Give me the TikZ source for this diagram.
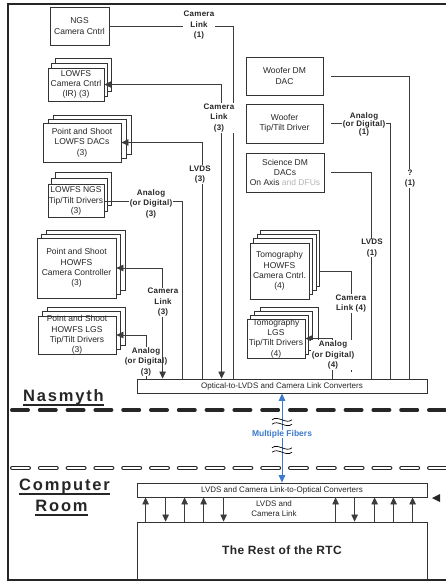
\documentclass[tikz,border=0pt]{standalone}
\usepackage{fontspec}
\setmainfont{Liberation Sans}
\newfontfamily\hdfont[LetterSpace=11]{Liberation Sans}
\newfontfamily\lbfont[LetterSpace=3]{Liberation Sans}
\usetikzlibrary{arrows.meta,shadows}
\definecolor{boxline}{HTML}{333333}
\definecolor{wirecol}{HTML}{3C3C3C}
\definecolor{ink}{HTML}{262626}
\definecolor{fibre}{HTML}{3C7BCB}
\definecolor{faded}{HTML}{B4B4B4}
\newsavebox{\hdbox}
\newcommand{\hdul}[1]{\sbox{\hdbox}{#1}\rlap{\usebox{\hdbox}}\rule[-5.2pt]{\wd\hdbox}{1.8pt}}
\tikzset{
  unit/.style  ={draw=boxline, line width=0.8pt, fill=white, align=center, text=ink,
                 font=\fontsize{8.5}{10.3}\selectfont, inner sep=0pt},
  back/.style 2 args={general shadow={fill=white, draw=boxline, line width=0.8pt,
                 shadow xshift=#1, shadow yshift=#2}},
  conv/.style  ={unit, font=\fontsize{8}{9.6}\selectfont, minimum width=290pt, minimum height=14pt},
  wire/.style  ={draw=wirecol, line width=0.75pt},
  lbl/.style   ={fill=white, align=center, text=ink, inner sep=0.5pt,
                 font=\lbfont\bfseries\fontsize{8}{10.5}\selectfont},
  hdr/.style   ={font=\hdfont\bfseries\fontsize{16.5}{18}\selectfont, inner sep=0pt, text=ink},
  fiber/.style ={draw=fibre, line width=1pt,
                 {Triangle[length=7.5pt,width=6.5pt]}-{Triangle[length=7.5pt,width=6.5pt]}},
  brk/.style   ={draw=black, line width=0.7pt},
}

\begin{document}
\begin{tikzpicture}[x=1pt,y=-1pt,>={Triangle[length=7pt,width=6.5pt]}]
  \useasboundingbox (0,0) rectangle (446,582);
  % frame
  \draw[line width=2.4pt, draw=ink] (446,4) -- (8,4) -- (8,580) -- (446,580);

  % Nasmyth, left column
  \node[unit, minimum width=59pt, minimum height=38pt] (ngs) at (79.5,26) {NGS\\Camera Cntrl};
  \node[unit, back={7pt}{10pt}, back={3.5pt}{5pt}, minimum width=56pt, minimum height=33pt]
    (lowcam) at (76,84.5) {LOWFS\\Camera Cntrl\\(IR) (3)};
  \node[unit, back={10pt}{8pt}, back={5pt}{4pt}, minimum width=78pt, minimum height=39pt]
    (lowdac) at (82,142.5) {Point and Shoot\\LOWFS DACs\\(3)};
  \node[unit, back={7pt}{12pt}, back={3.5pt}{6pt}, minimum width=56pt, minimum height=33pt]
    (lowtt) at (76,201) {LOWFS NGS\\Tip/Tilt Drivers\\(3)};
  \node[unit, back={9pt}{8pt}, back={4.5pt}{4pt}, minimum width=79pt, minimum height=60pt]
    (howcam) at (76.5,268) {Point and Shoot\\HOWFS\\Camera Controller\\(3)};
  \node[unit, back={9pt}{9pt}, back={4.5pt}{4.5pt}, minimum width=78pt, minimum height=38pt, inner ysep=-2pt]
    (howtt) at (77,335) {Point and Shoot\\HOWFS LGS\\Tip/Tilt Drivers\\(3)};

  % Nasmyth, right column
  \node[unit, minimum width=77pt, minimum height=38pt] (wdm) at (284.5,76) {Woofer DM\\DAC};
  \node[unit, minimum width=77pt, minimum height=39pt] (wtt) at (284.5,123.5) {Woofer\\Tip/Tilt Driver};
  \node[unit, minimum width=78pt, minimum height=39pt, font=\fontsize{8.5}{9.6}\selectfont]
    (sci) at (285,172.5) {Science DM\\DACs\\On Axis \textcolor{faded}{and DFUs}};
  \node[unit, back={10.5pt}{13pt}, back={7pt}{8.6pt}, back={3.5pt}{4.3pt}, minimum width=59pt, minimum height=56pt]
    (tomcam) at (279.5,271) {Tomography\\HOWFS\\Camera Cntrl.\\(4)};
  \node[unit, back={13pt}{12pt}, back={7pt}{8pt}, back={3pt}{4pt}, minimum width=58pt, minimum height=39pt, inner ysep=-2pt]
    (tomtt) at (276,338.5) {Tomography\\LGS\\Tip/Tilt Drivers\\(4)};

  % converters and RTC
  \node[conv] (conv1) at (282,386) {Optical-to-LVDS and Camera Link Converters};
  \node[conv] (conv2) at (282,490) {LVDS and Camera Link-to-Optical Converters};
  \node[unit, minimum width=290pt, minimum height=57pt, font=\lbfont\bfseries\fontsize{12}{14}\selectfont]
    (rtc) at (282,550.5) {The Rest of the RTC};

  % links into the Nasmyth converters
  \draw[wire,<-] (howtt.east) -| ([xshift=10pt]conv1.north west);
  \node[lbl] (l-howtt) at (146,361.5) {Analog\\(or Digital)\\(3)};
  \draw[wire] (ngs.east) -| ([xshift=97pt]conv1.north west);
  \draw[wire,<->] (lowcam.east) -| ([xshift=85pt]conv1.north west);
  \draw[wire,<-] (lowdac.east) -| ([xshift=66pt]conv1.north west);
  \draw[wire] (lowtt.east) -| ([xshift=46pt]conv1.north west);
  \draw[wire,<->] (howcam.east) -| ([xshift=26pt]conv1.north west);
  \draw[wire] ([xshift=8pt]wdm.east) -| ([xshift=273pt]conv1.north west);
  \draw[wire] ([xshift=8pt]wtt.east) -| ([xshift=254pt]conv1.north west);
  \draw[wire] ([xshift=7pt]sci.east) -| ([xshift=235pt]conv1.north west);
  \draw[wire] ([xshift=10.5pt]tomcam.east) -| ([xshift=215pt,yshift=7pt]conv1.north west);
  \draw[wire,<-] (tomtt.east) -| ([xshift=196pt]conv1.north west);

  % link labels
  \node[lbl] (l-ngs) at (199,25.5) {Camera\\Link\\(1)};
  \node[lbl] (l-lowcam) at (219,118) {Camera\\Link\\(3)};
  \node[lbl] (l-lowdac) at (200,174.5) {LVDS\\(3)};
  \node[lbl] (l-lowtt) at (151,203.5) {Analog\\(or Digital)\\(3)};
  \node[lbl] (l-howcam) at (163,302.5) {Camera\\Link\\(3)};
  \node[lbl] (l-wdm) at (410,178.5) {?\\(1)};
  \node[lbl, font=\lbfont\bfseries\fontsize{8}{8.2}\selectfont] (l-wtt) at (364,124.5) {Analog\\(or Digital)\\(1)};
  \node[lbl] (l-sci) at (372,248) {LVDS\\(1)};
  \node[lbl] (l-tomcam) at (351,303.5) {Camera\\Link (4)};
  \node[lbl] (l-tomtt) at (333,355) {Analog\\(or Digital)\\(4)};

  % room borders
  \draw[line width=4pt, line cap=round, dash pattern=on 16pt off 11.8pt, draw=ink] (12,410) -- (446,410);
  \draw[line width=1pt, double=white, double distance=2.4pt, line cap=round,
        dash pattern=on 16.6pt off 11.2pt, draw=ink] (12.2,468) -- (446,468);

  \node[hdr, anchor=base] (nasm) at (63.5,401) {\hdul{Nasmyth}};
  \node[hdr, anchor=base] (comp) at (64.5,490) {\hdul{Computer}};
  \node[hdr, anchor=base] (room) at (61.5,511) {\hdul{Room}};

  % fibres
  \draw[fiber] (conv2.north) -- (conv1.south);
  \node[lbl, text=fibre, font=\bfseries\fontsize{8.5}{10}\selectfont] (fib) at (282,434) {Multiple Fibers};
  \foreach \y in {419.8,424.2,447.8,452.2}
    \draw[brk] (272,\y) .. controls (278,\y-5) and (286,\y+5) .. (292,\y);

  % computer room links
  \foreach \dx in {9,48,67,199,238,257,276}
    \draw[wire,->] ([xshift=\dx pt]rtc.north west) -- ([xshift=\dx pt]conv2.south west);
  \foreach \dx in {29,87,218}
    \draw[wire,->] ([xshift=\dx pt]conv2.south west) -- ([xshift=\dx pt]rtc.north west);
  \node[font=\fontsize{8}{10.5}\selectfont, align=center, text=ink] (lvds) at (274,508.5) {LVDS and\\Camera Link};
  \fill[ink] (432,498) -- (440,494) -- (440,502) -- cycle;
\end{tikzpicture}
\end{document}
